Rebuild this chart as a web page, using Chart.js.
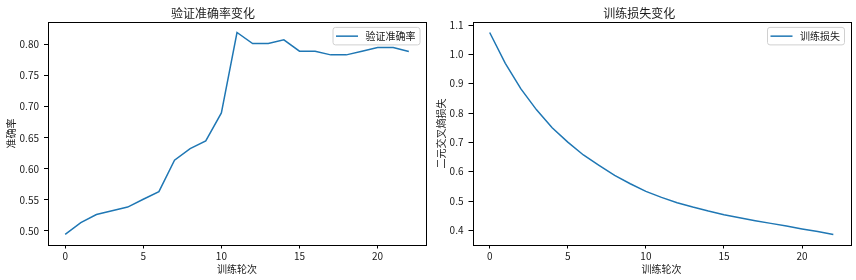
<!DOCTYPE html>
<html>
<head>
<meta charset="utf-8">
<script src="https://cdn.jsdelivr.net/npm/chart.js@4"></script>
<style>
  html, body { margin: 0; padding: 0; background: #fff; }
  #wrap { position: relative; width: 856px; height: 280px; overflow: hidden; }
  canvas { position: absolute; top: 0; }
  #c1 { left: 0; }
  #c2 { left: 428px; }
</style>
</head>
<body>
<div id="wrap">
  <canvas id="c1" width="428" height="280"></canvas>
  <canvas id="c2" width="428" height="280"></canvas>
</div>
<script>
// ---- data ----
const epochs = [0,1,2,3,4,5,6,7,8,9,10,11,12,13,14,15,16,17,18,19,20,21,22];
const valAcc = [0.4945,0.5135,0.5265,0.5325,0.5385,0.5510,0.5634,0.6138,0.6326,0.6449,0.6899,0.8193,0.8016,0.8016,0.8074,0.7892,0.7892,0.7833,0.7833,0.7892,0.7952,0.7952,0.7887];
const trainLoss = [1.0745,0.9693,0.8822,0.8108,0.7495,0.7006,0.6569,0.6213,0.5872,0.5589,0.5327,0.5123,0.4943,0.4794,0.4658,0.4535,0.4432,0.4330,0.4238,0.4146,0.4050,0.3962,0.3862];
const xTicks = [0,5,10,15,20];
const accTicks = [0.50,0.55,0.60,0.65,0.70,0.75,0.80];
const lossTicks = [0.4,0.5,0.6,0.7,0.8,0.9,1.0,1.1];

const FONT = '"Noto Sans CJK SC", "Noto Sans", sans-serif';
const TXT = '#1a1a1a';
const LINE = '#1f77b4';

function range(arr) {
  const mn = Math.min(...arr), mx = Math.max(...arr);
  const m = (mx - mn) * 0.05;
  return [mn - m, mx + m];
}

const framePlugin = {
  id: 'frameLegend',
  afterDatasetsDraw(chart) {
    const {ctx, chartArea: a} = chart;
    ctx.save();
    ctx.strokeStyle = '#000';
    ctx.lineWidth = 1;
    ctx.strokeRect(Math.round(a.left) + 0.5, Math.round(a.top) + 0.5,
                   Math.round(a.right) - Math.round(a.left), Math.round(a.bottom) - Math.round(a.top));
    // legend
    const ds = chart.data.datasets[0];
    ctx.font = '10px ' + FONT;
    const tw = ctx.measureText(ds.label).width;
    const h = 17.5;
    const right = a.right - 6;
    const w = 3 + 22 + 7.5 + tw + 4.5;
    const left = right - w;
    const top = a.top + 5;
    const r = 2.5;
    ctx.beginPath();
    ctx.moveTo(left + r, top);
    ctx.lineTo(right - r, top);
    ctx.arcTo(right, top, right, top + r, r);
    ctx.lineTo(right, top + h - r);
    ctx.arcTo(right, top + h, right - r, top + h, r);
    ctx.lineTo(left + r, top + h);
    ctx.arcTo(left, top + h, left, top + h - r, r);
    ctx.lineTo(left, top + r);
    ctx.arcTo(left, top, left + r, top, r);
    ctx.closePath();
    ctx.fillStyle = 'rgba(255,255,255,0.8)';
    ctx.fill();
    ctx.strokeStyle = '#d0d0d0';
    ctx.lineWidth = 1;
    ctx.stroke();
    const cy = top + h / 2;
    ctx.beginPath();
    ctx.moveTo(left + 3, cy);
    ctx.lineTo(left + 25, cy);
    ctx.strokeStyle = ds.borderColor;
    ctx.lineWidth = 1.5;
    ctx.stroke();
    ctx.fillStyle = TXT;
    ctx.textBaseline = 'middle';
    ctx.textAlign = 'left';
    ctx.fillText(ds.label, left + 32.5, cy);
    ctx.restore();
  }
};

function makeChart(id, title, label, yTitle, values, yTicks, decimals, axisLeft, padRight, yTitlePad) {
  const [ymin, ymax] = range(values);
  const [xmin, xmax] = range(epochs);
  return new Chart(document.getElementById(id), {
    type: 'line',
    data: {
      datasets: [{
        label: label,
        data: epochs.map((e, i) => ({x: e, y: values[i]})),
        borderColor: LINE,
        borderWidth: 1.5,
        pointRadius: 0,
        fill: false,
        tension: 0
      }]
    },
    options: {
      responsive: false,
      animation: false,
      layout: { padding: { left: 0, right: padRight, top: 0, bottom: 0 } },
      plugins: {
        legend: { display: false },
        tooltip: { enabled: false },
        title: {
          display: true, text: title, color: TXT,
          font: { family: FONT, size: 12, weight: 'normal', lineHeight: 1.2 },
          padding: { top: 6, bottom: 2 }
        }
      },
      scales: {
        x: {
          type: 'linear', min: xmin, max: xmax,
          afterBuildTicks: s => { s.ticks = xTicks.map(v => ({value: v})); },
          afterFit: s => { s.height = 280 - 244.5; },
          ticks: { color: TXT, font: { family: FONT, size: 10 }, padding: 2, maxRotation: 0,
                   callback: v => String(v) },
          grid: { drawOnChartArea: false, drawTicks: true, tickLength: 4, color: '#000', lineWidth: 1 },
          border: { display: false },
          title: { display: true, text: '训练轮次', color: TXT,
                   font: { family: FONT, size: 10 }, padding: { top: 0, bottom: 4.7 } }
        },
        y: {
          type: 'linear', min: ymin, max: ymax,
          afterBuildTicks: s => { s.ticks = yTicks.map(v => ({value: v})); },
          afterFit: s => { s.width = axisLeft; },
          ticks: { color: TXT, font: { family: FONT, size: 10 }, padding: 5,
                   callback: v => Number(v).toFixed(decimals) },
          grid: { drawOnChartArea: false, drawTicks: true, tickLength: 4, color: '#000', lineWidth: 1 },
          border: { display: false },
          title: { display: true, text: yTitle, color: TXT,
                   font: { family: FONT, size: 10 }, padding: { top: yTitlePad, bottom: 0 } }
        }
      }
    },
    plugins: [framePlugin]
  });
}

makeChart('c1', '验证准确率变化', '验证准确率', '准确率', valAcc, accTicks, 2, 48, 2, 5.5);
makeChart('c2', '训练损失变化', '训练损失', '二元交叉熵损失', trainLoss, lossTicks, 1, 44.5, 5.5, 7.5);
</script>
</body>
</html>
